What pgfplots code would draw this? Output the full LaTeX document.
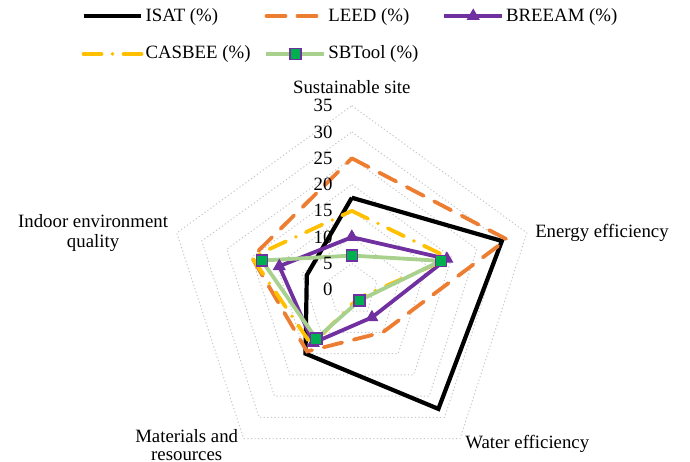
\documentclass[border=0pt]{standalone}
\usepackage{fontspec}
\setmainfont{Liberation Serif}
\usepackage{pgfplots}
\pgfplotsset{compat=1.18}
\definecolor{leedc}{HTML}{ED7D31}
\definecolor{breeamc}{HTML}{7030A0}
\definecolor{casbeec}{HTML}{FFC000}
\definecolor{sbtl}{HTML}{A9D18E}
\definecolor{sbmk}{HTML}{00B050}
\definecolor{gridc}{HTML}{C8C8C8}
\begin{document}
\rmfamily\fontsize{9.4}{10.4}\selectfont
\begin{tikzpicture}
\begin{axis}[
  x=2.63pt, y=2.63pt,
  xmin=-66.9, xmax=64.3, ymin=-32.7, ymax=55.1,
  hide axis, clip=false,
  legend columns=3,
  legend cell align=left,
  legend style={draw=none, fill=none, at={(0.1174,0.992)}, anchor=north west,
    font=\rmfamily\fontsize{9.4}{10.4}\selectfont, row sep=7pt, inner sep=0pt,
    nodes={inner xsep=1pt, inner ysep=2pt}},
  legend image code/.code={
    \draw[mark repeat=2,mark phase=2,#1] plot coordinates {(0pt,0pt) (14.5pt,0pt) (29pt,0pt)};
  },
]
\coordinate (bbsw) at (axis cs:-66.9,-32.7);
\coordinate (bbne) at (axis cs:64.3,55.1);
\pgfplotsinvokeforeach{5,10,...,35}{
  \addplot[forget plot, data cs=polar, gridc, line width=0.5pt, dash pattern=on 0.6pt off 1.2pt]
    coordinates {(90,#1) (18,#1) (-54,#1) (-126,#1) (-198,#1) (90,#1)};
}
% ISAT
\addplot[data cs=polar, black, line width=2.1pt, line join=miter]
  coordinates {(90,17.5) (18,30) (-54,28) (-126,15) (-198,9) (90,17.5)};
\addlegendentry{\makebox[58.5pt][l]{ISAT (\%)}}
% LEED
\addplot[data cs=polar, leedc, line width=1.9pt, line cap=round, dash pattern=on 9.5pt off 6pt]
  coordinates {(90,25) (18,31) (-54,10) (-126,14.5) (-198,20) (90,25)};
\addlegendentry{\makebox[56pt][l]{LEED (\%)}}
% BREEAM
\addplot[data cs=polar, breeamc, line width=1.9pt, mark=triangle*, mark size=3.3pt,
  mark options={solid, fill=breeamc, line width=0.5pt}]
  coordinates {(90,10) (18,19) (-54,6.5) (-126,12.5) (-198,14.5) (90,10)};
\addlegendentry{BREEAM (\%)}
% CASBEE
\addplot[data cs=polar, casbeec, line width=1.9pt, line cap=round,
  dash pattern=on 9pt off 5.5pt on 0pt off 5.5pt]
  coordinates {(90,15) (18,19.5) (-54,2) (-126,13) (-198,20) (90,15)};
\addlegendentry{\makebox[58.5pt][l]{CASBEE (\%)}}
% SBTool
\addplot[data cs=polar, sbtl, line width=1.9pt, mark=square*, mark size=2.8pt,
  mark options={solid, fill=sbmk, draw=breeamc, line width=0.7pt}]
  coordinates {(90,6.5) (18,17.8) (-54,2.5) (-126,11.5) (-198,18) (90,6.5)};
\addlegendentry{\makebox[56pt][l]{SBTool (\%)}}
% radial tick labels
\pgfplotsinvokeforeach{0,5,...,35}{
  \node[anchor=east, inner sep=0pt] at (axis cs:-3.6,#1) {#1};
}
% category labels
\node[anchor=base, inner sep=0pt] at (axis cs:0,37.4) {Sustainable site};
\node[anchor=base west, inner sep=0pt] at (axis cs:34.8,10.0) {Energy efficiency};
\node[anchor=base west, inner sep=0pt] at (axis cs:21.5,-30.2) {Water efficiency};
\node[anchor=base, inner sep=0pt] at (axis cs:-31.4,-29.0) {Materials and};
\node[anchor=base, inner sep=0pt] at (axis cs:-31.4,-32.4) {resources};
\node[anchor=base, inner sep=0pt] at (axis cs:-49.2,11.8) {Indoor environment};
\node[anchor=base, inner sep=0pt] at (axis cs:-49.2,8.0) {quality};
\end{axis}
\pgfresetboundingbox
\useasboundingbox (bbsw) rectangle (bbne);
\end{tikzpicture}
\end{document}
